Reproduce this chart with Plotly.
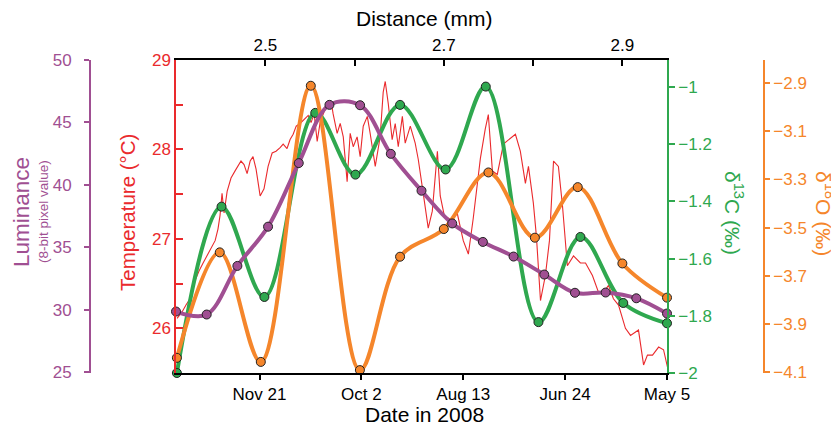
import pandas as pd
import plotly.graph_objects as go

# ---------------- data ----------------
# Temperature record (days before 2009-01-01, °C)
red_days = [0.5, 2.9, 4.9, 6.9, 8.4, 9.8, 11.3, 13.3, 15.2, 17.2, 19.2, 20.6, 21.6, 22.6, 23.6,
            25.1, 27.0, 29.0, 30.5, 31.9, 33.4, 34.9, 36.4, 37.8, 39.3, 41.3, 43.2, 45.2, 47.2,
            49.1, 51.1, 52.6, 54.5, 56.0, 57.5, 59.0, 60.9, 62.9, 64.9, 66.3, 67.8, 69.3, 70.8,
            72.7, 74.7, 76.2, 77.1, 79.1, 80.6, 82.1, 84.0, 85.5, 87.0, 88.9, 90.4, 91.9, 93.9,
            95.3, 97.8, 100.2, 101.7, 102.7, 104.2, 106.1, 107.6, 109.1, 111.1, 112.5, 115.0,
            117.4, 118.9, 121.4, 123.8, 125.8, 128.3, 129.7, 131.7, 134.6, 138.1, 141.0, 143.5,
            145.9, 149.4, 151.8, 153.3, 155.3, 157.7, 160.7, 164.1, 166.6, 169.0, 171.5, 173.0,
            175.4, 176.9, 178.9, 181.3, 183.3, 185.3, 187.7, 189.7, 191.2, 192.1, 195.1, 198.5,
            201.0, 204.4, 207.4, 209.8, 212.3, 214.7, 217.2, 219.2, 220.6, 223.1, 225.6, 227.0,
            229.5, 231.4, 233.9, 236.9, 239.3, 241.3]
red_temp = [26.11, 26.18, 26.26, 26.33, 26.48, 26.56, 26.64, 26.73, 26.81, 26.89, 26.98, 27.11,
            27.26, 27.51, 27.29, 27.53, 27.68, 27.76, 27.81, 27.87, 27.83, 27.73, 27.87, 27.92,
            27.78, 27.48, 27.56, 27.81, 27.96, 27.98, 28.02, 28.06, 28.01, 28.11, 28.17, 28.26,
            28.29, 28.33, 28.38, 28.30, 28.40, 28.09, 28.31, 28.42, 28.51, 28.53, 28.40, 28.18,
            28.29, 28.14, 27.64, 28.18, 28.03, 28.14, 27.92, 28.26, 28.37, 28.18, 27.81, 28.14,
            28.64, 28.76, 28.51, 28.11, 28.29, 28.03, 28.37, 28.07, 28.26, 28.07, 27.89, 27.50,
            27.12, 27.31, 27.98, 27.48, 27.26, 27.22, 27.28, 26.98, 26.83, 27.23, 27.90, 28.23,
            28.39, 27.76, 27.72, 28.06, 28.12, 28.17, 27.98, 27.62, 27.81, 27.40, 27.03, 26.31,
            26.59, 26.98, 27.87, 27.81, 27.37, 26.89, 26.70, 26.81, 26.73, 26.73, 26.59, 26.40,
            26.40, 26.48, 26.33, 26.26, 26.11, 26.00, 25.92, 25.96, 25.98, 25.59, 25.70, 25.70,
            25.79, 25.76, 25.56]

# Luminance (distance mm, 8-bit value)
lum_dist = [2.4 + 0.034375 * k for k in range(17)]
lum_vals = [29.87, 29.63, 33.52, 36.66, 41.75, 46.41, 46.38, 42.49, 39.54, 36.92, 35.44,
            34.27, 32.83, 31.37, 31.39, 30.93, 29.71]

# δ13C (distance mm, ‰)
c13_dist = [2.401, 2.451, 2.499, 2.556, 2.601, 2.651, 2.702, 2.747, 2.806, 2.853, 2.901, 2.950]
c13_vals = [-2.00, -1.418, -1.734, -1.090, -1.306, -1.062, -1.288, -0.998, -1.822, -1.524,
            -1.755, -1.826]

# δ18O (distance mm, ‰)
o18_dist = [2.401, 2.449, 2.495, 2.551, 2.606, 2.651, 2.700, 2.750, 2.802, 2.850, 2.900, 2.950]
o18_vals = [-4.041, -3.603, -4.058, -2.911, -4.092, -3.621, -3.506, -3.271, -3.542, -3.332,
            -3.649, -3.791]

date_ticks = ['2008-11-21', '2008-10-02', '2008-08-13', '2008-06-24', '2008-05-05']
date_labels = ['Nov 21', 'Oct 2', 'Aug 13', 'Jun 24', 'May 5']
dist_ticks = [2.5, 2.7, 2.9]
dist_minor = [2.6, 2.8]
temp_ticks = [26, 27, 28, 29]
temp_minor = [25.5, 26.5, 27.5, 28.5]
lum_ticks = [25, 30, 35, 40, 45, 50]
c13_ticks = [-2.0, -1.8, -1.6, -1.4, -1.2, -1.0]
c13_labels = ['\u22122', '\u22121.8', '\u22121.6', '\u22121.4', '\u22121.2', '\u22121']
o18_ticks = [-4.1, -3.9, -3.7, -3.5, -3.3, -3.1, -2.9]
o18_labels = ['\u22124.1', '\u22123.9', '\u22123.7', '\u22123.5', '\u22123.3', '\u22123.1', '\u22122.9']

# ---------------- style ----------------
RED = '#EA2A2D'
GREEN = '#2FA84F'
ORANGE = '#F5862B'
PURPLE = '#A04F92'
EDGE = '#222222'
FONT = 'Liberation Sans, Arial, Helvetica, sans-serif'

OFF = 8                      # page body offset of the figure inside the window
W, H = 839 - OFF, 430 - OFF
ML, MR = 12, 12
PLOT_TOP, PLOT_BOT = 60, 373  # window pixels
MT = PLOT_TOP - OFF
MB = H - (PLOT_BOT - OFF)
PW = W - ML - MR
PH = H - MT - MB


def px(xwin):
    return (xwin - OFF - ML) / PW


def py(ywin):
    return (H - MB - (ywin - OFF)) / PH


base = pd.Timestamp('2009-01-01')
red_dates = [(base - pd.Timedelta(days=d)).strftime('%Y-%m-%d %H:%M') for d in red_days]

fig = go.Figure()
fig.add_trace(go.Scatter(x=red_dates, y=red_temp, xaxis='x', yaxis='y', mode='lines',
                         line=dict(color=RED, width=1.1), hoverinfo='skip'))
for xs, ys, ax, col in [(c13_dist, c13_vals, 'y2', GREEN),
                        (o18_dist, o18_vals, 'y3', ORANGE),
                        (lum_dist, lum_vals, 'y4', PURPLE)]:
    fig.add_trace(go.Scatter(x=xs, y=ys, xaxis='x2', yaxis=ax, mode='lines+markers',
                             line=dict(color=col, width=4, shape='spline', smoothing=1.0),
                             marker=dict(size=9, color=col, line=dict(color=EDGE, width=1)),
                             cliponaxis=False, hoverinfo='skip'))

dom = [px(176), px(667)]
tick_common = dict(tickwidth=1.5, showgrid=False, zeroline=False, showline=True)
fig.update_layout(
    width=W, height=H, margin=dict(l=ML, r=MR, t=MT, b=MB, autoexpand=False),
    plot_bgcolor='white', paper_bgcolor='white', showlegend=False,
    font=dict(family=FONT, size=17, color='black'),
    xaxis=dict(type='date', domain=dom, range=['2009-01-01', '2008-05-05'], anchor='y',
               tickmode='array', tickvals=date_ticks, ticktext=date_labels,
               ticks='outside', ticklen=5, tickcolor='black',
               linecolor='black', linewidth=1.5,
               tickfont=dict(size=17, color='black'), **tick_common),
    xaxis2=dict(overlaying='x', side='top', anchor='y', range=[2.4, 2.95],
                tickmode='array', tickvals=dist_ticks,
                minor=dict(tickmode='array', tickvals=dist_minor, ticks='inside', ticklen=6,
                           tickwidth=1.5, tickcolor='black'),
                ticks='inside', ticklen=6, tickcolor='black',
                linecolor='black', linewidth=1.5,
                tickfont=dict(size=17, color='black'), **tick_common),
    yaxis=dict(range=[25.5, 29.0], tickmode='array', tickvals=temp_ticks,
               ticks='inside', ticklen=7, tickcolor=RED,
               minor=dict(tickmode='array', tickvals=temp_minor, ticks='inside',
                          ticklen=7, tickwidth=1.5, tickcolor=RED),
               linecolor=RED, linewidth=1.5,
               tickfont=dict(size=17, color=RED), **tick_common),
    yaxis2=dict(overlaying='y', anchor='x', side='right', range=[-2.0, -0.905],
                tickmode='array', tickvals=c13_ticks, ticktext=c13_labels,
                ticks='outside', ticklen=6, tickcolor=GREEN,
                linecolor=GREEN, linewidth=1.8,
                tickfont=dict(size=17, color=GREEN), **tick_common),
    yaxis3=dict(overlaying='y', anchor='free', position=px(764), side='right',
                range=[-4.104, -2.804], tickmode='array', tickvals=o18_ticks, ticktext=o18_labels,
                ticks='outside', ticklen=5, tickcolor=ORANGE,
                linecolor=ORANGE, linewidth=1.8,
                tickfont=dict(size=17, color=ORANGE), **tick_common),
    yaxis4=dict(overlaying='y', anchor='free', position=px(90), side='left',
                range=[24.95, 50.0], tickmode='array', tickvals=lum_ticks,
                ticks='outside', ticklen=5, tickcolor=PURPLE, ticklabelstandoff=9,
                linecolor=PURPLE, linewidth=1.8,
                tickfont=dict(size=17, color=PURPLE), **tick_common),
)

ann = [
    dict(text='Luminance', x=px(21), y=py(212), textangle=-90, font=dict(size=22.5, color=PURPLE)),
    dict(text='(8-bit pixel value)', x=px(43), y=py(212), textangle=-90,
         font=dict(size=13.5, color=PURPLE)),
    dict(text='Temperature (\u00b0C)', x=px(127), y=py(213), textangle=-90,
         font=dict(size=20.5, color=RED)),
    dict(text='\u03b4<sup>13</sup>C (\u2030)', x=px(734), y=py(213), textangle=90,
         font=dict(size=21, color=GREEN)),
    dict(text='\u03b4<sup>18</sup>O (\u2030)', x=px(825), y=py(213), textangle=90,
         font=dict(size=21, color=ORANGE)),
    dict(text='Distance (mm)', x=px(425), y=py(18), font=dict(size=21, color='black')),
    dict(text='Date in 2008', x=px(425), y=py(414), font=dict(size=21, color='black')),
]
for a in ann:
    a.update(xref='paper', yref='paper', showarrow=False, xanchor='center', yanchor='middle')
fig.update_layout(annotations=ann)

fig.write_html('out.html')
